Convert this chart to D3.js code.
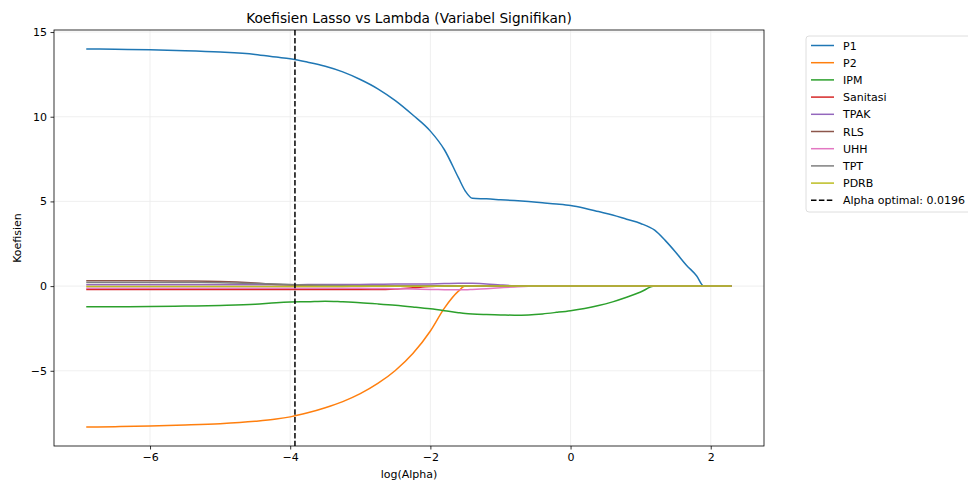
<!DOCTYPE html>
<html>
<head>
<meta charset="utf-8">
<script src="https://cdn.jsdelivr.net/npm/d3@7"></script>
<style>
  body { margin: 0; background: #fff; }
  svg { font-family: "DejaVu Sans", sans-serif; }
</style>
</head>
<body>
<div id="chart"></div>
<script>
// log(alpha) sample points
var logAlpha = [-6.91, -6.5, -6, -5.5, -5, -4.5, -4.2, -4, -3.75, -3.5, -3.25, -3, -2.75, -2.5, -2.25, -2,
  -1.8, -1.6, -1.5, -1.4, -1.2, -1, -0.8, -0.6, -0.4, -0.2, 0, 0.2, 0.4, 0.6, 0.8, 1.0, 1.2, 1.35, 1.5,
  1.65, 1.8, 1.9, 2.0, 2.15, 2.30];

var seriesNames = ["P1", "P2", "IPM", "Sanitasi", "TPAK", "RLS", "UHH", "TPT", "PDRB"];
var seriesColors = ["#1f77b4", "#ff7f0e", "#2ca02c", "#d62728", "#9467bd", "#8c564b", "#e377c2", "#7f7f7f", "#bcbd22"];

var P1 = [14.00, 13.98, 13.95, 13.90, 13.82, 13.68, 13.52, 13.42, 13.22, 12.98, 12.65, 12.2, 11.65, 10.95, 10.1, 9.15,
  8.05, 6.4, 5.6, 5.18, 5.15, 5.1, 5.05, 4.99, 4.92, 4.85, 4.76, 4.6, 4.4, 4.2, 3.95, 3.7, 3.3, 2.7, 2.0,
  1.25, 0.6, 0, 0, 0, 0];
var P2 = [-8.32, -8.30, -8.26, -8.2, -8.12, -7.98, -7.85, -7.72, -7.48, -7.18, -6.82, -6.35, -5.75, -4.98, -3.98, -2.65,
  -1.3, -0.3, 0, 0, 0, 0, 0, 0, 0, 0, 0, 0, 0, 0, 0, 0, 0, 0, 0,
  0, 0, 0, 0, 0, 0];
var IPM = [-1.22, -1.22, -1.21, -1.18, -1.14, -1.07, -0.98, -0.94, -0.92, -0.89, -0.93, -0.98, -1.05, -1.13, -1.23, -1.34,
  -1.45, -1.57, -1.62, -1.65, -1.68, -1.70, -1.72, -1.70, -1.64, -1.55, -1.45, -1.32, -1.15, -0.93, -0.66, -0.35, 0, 0, 0,
  0, 0, 0, 0, 0, 0];
var Sanitasi = [-0.2, -0.2, -0.2, -0.2, -0.2, -0.2, -0.2, -0.2, -0.2, -0.2, -0.2, -0.2, -0.2, -0.17, -0.1, -0.03,
  0, 0, 0, 0, 0, 0, 0, 0, 0, 0, 0, 0, 0, 0, 0, 0, 0, 0, 0,
  0, 0, 0, 0, 0, 0];
var TPAK = [0.08, 0.08, 0.08, 0.08, 0.08, 0.08, 0.08, 0.08, 0.09, 0.09, 0.1, 0.1, 0.11, 0.12, 0.12, 0.13,
  0.15, 0.17, 0.17, 0.17, 0.13, 0.07, 0.02, 0, 0, 0, 0, 0, 0, 0, 0, 0, 0, 0, 0,
  0, 0, 0, 0, 0, 0];
var RLS = [0.31, 0.31, 0.31, 0.3, 0.27, 0.18, 0.1, 0.06, 0.03, 0.01, 0, 0, 0, 0, 0, 0,
  0, 0, 0, 0, 0, 0, 0, 0, 0, 0, 0, 0, 0, 0, 0, 0, 0, 0, 0,
  0, 0, 0, 0, 0, 0];
var UHH = [-0.12, -0.12, -0.12, -0.12, -0.12, -0.12, -0.12, -0.12, -0.12, -0.13, -0.13, -0.13, -0.14, -0.15, -0.17, -0.2,
  -0.21, -0.22, -0.22, -0.2, -0.15, -0.1, -0.05, -0.01, 0, 0, 0, 0, 0, 0, 0, 0, 0, 0, 0,
  0, 0, 0, 0, 0, 0];
var TPT = [0.22, 0.22, 0.22, 0.21, 0.2, 0.15, 0.12, 0.1, 0.07, 0.05, 0.03, 0.02, 0.01, 0, 0, 0,
  0, 0, 0, 0, 0, 0, 0, 0, 0, 0, 0, 0, 0, 0, 0, 0, 0, 0, 0,
  0, 0, 0, 0, 0, 0];
var PDRB = [-0.03, -0.03, -0.03, -0.03, -0.03, -0.03, -0.02, -0.02, -0.02, -0.02, -0.02, -0.01, -0.01, -0.01, -0.01, -0.01,
  0, 0, 0, 0, 0, 0, 0, 0, 0, 0, 0, 0, 0, 0, 0, 0, 0, 0, 0,
  0, 0, 0, 0, 0, 0];
var seriesValues = [P1, P2, IPM, Sanitasi, TPAK, RLS, UHH, TPT, PDRB];

var alphaOptimal = 0.0196;
var xTicks = [-6, -4, -2, 0, 2];
var yTicks = [-5, 0, 5, 10, 15];

var width = 968, height = 484;
var margin = { left: 54, right: 204, top: 30, bottom: 38 };
var plotW = width - margin.left - margin.right;
var plotH = height - margin.top - margin.bottom;

var svg = d3.select("#chart").append("svg")
  .attr("width", width)
  .attr("height", height);

var x = d3.scaleLinear().domain([-7.37, 2.76]).range([0, plotW]);
var y = d3.scaleLinear().domain([-9.44, 15.12]).range([plotH, 0]);

var g = svg.append("g").attr("transform", "translate(" + margin.left + "," + margin.top + ")");

// grid
g.append("g").selectAll("line").data(xTicks).enter().append("line")
  .attr("x1", function(d) { return x(d); })
  .attr("x2", function(d) { return x(d); })
  .attr("y1", 0).attr("y2", plotH)
  .style("stroke", "#ebebeb").style("stroke-width", 0.8);
g.append("g").selectAll("line").data(yTicks).enter().append("line")
  .attr("x1", 0).attr("x2", plotW)
  .attr("y1", function(d) { return y(d); })
  .attr("y2", function(d) { return y(d); })
  .style("stroke", "#ebebeb").style("stroke-width", 0.8);

var line = d3.line()
  .x(function(d) { return x(d[0]); })
  .y(function(d) { return y(d[1]); })
  .curve(d3.curveMonotoneX);

svg.append("clipPath").attr("id", "clip").append("rect")
  .attr("width", plotW).attr("height", plotH);

var lines = g.append("g").attr("clip-path", "url(#clip)");
seriesValues.forEach(function(vals, i) {
  lines.append("path")
    .datum(d3.zip(logAlpha, vals))
    .attr("d", line)
    .style("fill", "none")
    .style("stroke", seriesColors[i])
    .style("stroke-width", 1.5)
    .style("stroke-linejoin", "round");
});

// optimal alpha
var xo = x(Math.log(alphaOptimal));
lines.append("line")
  .attr("x1", xo).attr("x2", xo)
  .attr("y1", 0).attr("y2", plotH)
  .style("stroke", "#000")
  .style("stroke-width", 1.5)
  .style("stroke-dasharray", "5.5,2.4");

// axes
var xAxis = d3.axisBottom(x).tickValues(xTicks).tickSize(3.5).tickPadding(3.5);
var yAxis = d3.axisLeft(y).tickValues(yTicks).tickSize(3.5).tickPadding(3.5);

var gx = g.append("g").attr("transform", "translate(0," + plotH + ")").call(xAxis);
var gy = g.append("g").call(yAxis);
[gx, gy].forEach(function(a) {
  a.select(".domain").remove();
  a.selectAll("line").style("stroke", "#000").style("stroke-width", 0.8);
  a.selectAll("text").style("font-size", "11px").style("fill", "#000")
    .style("font-family", "DejaVu Sans, sans-serif");
});

g.append("rect")
  .attr("width", plotW).attr("height", plotH)
  .style("fill", "none").style("stroke", "#000").style("stroke-width", 0.8);

// labels
svg.append("text")
  .attr("x", margin.left + plotW / 2).attr("y", 23)
  .attr("text-anchor", "middle")
  .style("font-size", "13.7px")
  .text("Koefisien Lasso vs Lambda (Variabel Signifikan)");

svg.append("text")
  .attr("x", margin.left + plotW / 2).attr("y", 478)
  .attr("text-anchor", "middle")
  .style("font-size", "11px")
  .text("log(Alpha)");

svg.append("text")
  .attr("transform", "translate(21," + (margin.top + plotH / 2) + ") rotate(-90)")
  .attr("text-anchor", "middle")
  .style("font-size", "11px")
  .text("Koefisien");

// legend
var legendItems = seriesNames.map(function(n, i) { return { name: n, color: seriesColors[i], dash: null }; });
legendItems.push({ name: "Alpha optimal: " + alphaOptimal, color: "#000", dash: "5.5,2.4" });

var lg = svg.append("g").attr("transform", "translate(806,36)");
lg.append("rect")
  .attr("width", 180).attr("height", 176).attr("rx", 3)
  .style("fill", "#fff").style("stroke", "#d6d6d6").style("stroke-width", 0.8);

var item = lg.selectAll("g.item").data(legendItems).enter().append("g")
  .attr("transform", function(d, i) { return "translate(0," + (9.5 + i * 17.2) + ")"; });
item.append("line")
  .attr("x1", 5).attr("x2", 28)
  .style("stroke", function(d) { return d.color; })
  .style("stroke-width", 1.5)
  .style("stroke-dasharray", function(d) { return d.dash; });
item.append("text")
  .attr("x", 37).attr("y", 4)
  .style("font-size", "11px")
  .text(function(d) { return d.name; });
</script>
</body>
</html>
